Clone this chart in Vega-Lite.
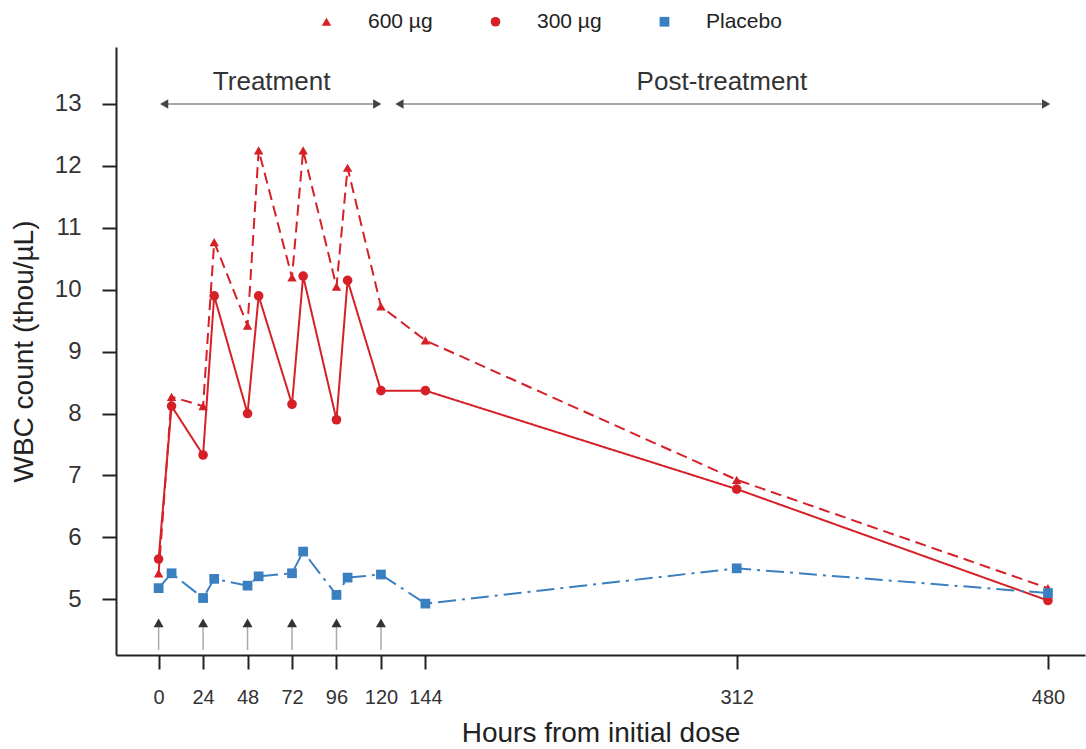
{
  "$schema": "https://vega.github.io/schema/vega-lite/v6.json",
  "width": 969,
  "height": 608,
  "autosize": {"type": "none"},
  "padding": {"left": 116, "top": 47, "right": 1, "bottom": 94},
  "config": {
    "font": "Liberation Sans",
    "view": {"stroke": null},
    "axis": {"grid": false, "domainColor": "#222", "domainWidth": 2, "tickColor": "#222", "tickWidth": 2, "tickSize": 14, "labelColor": "#333", "titleFontSize": 28, "titleFontWeight": "normal", "titleColor": "#222"}
  },
  "datasets": {
    "wbc": [
      {"h": 0, "v": 5.42, "g": "600 µg"}, {"h": 7, "v": 8.27, "g": "600 µg"}, {"h": 24, "v": 8.12, "g": "600 µg"}, {"h": 30, "v": 10.77, "g": "600 µg"}, {"h": 48, "v": 9.42, "g": "600 µg"}, {"h": 54, "v": 12.25, "g": "600 µg"}, {"h": 72, "v": 10.2, "g": "600 µg"}, {"h": 78, "v": 12.25, "g": "600 µg"}, {"h": 96, "v": 10.05, "g": "600 µg"}, {"h": 102, "v": 11.97, "g": "600 µg"}, {"h": 120, "v": 9.73, "g": "600 µg"}, {"h": 144, "v": 9.18, "g": "600 µg"}, {"h": 312, "v": 6.93, "g": "600 µg"}, {"h": 480, "v": 5.18, "g": "600 µg"},
      {"h": 0, "v": 5.65, "g": "300 µg"}, {"h": 7, "v": 8.12, "g": "300 µg"}, {"h": 24, "v": 7.33, "g": "300 µg"}, {"h": 30, "v": 9.9, "g": "300 µg"}, {"h": 48, "v": 8.0, "g": "300 µg"}, {"h": 54, "v": 9.9, "g": "300 µg"}, {"h": 72, "v": 8.15, "g": "300 µg"}, {"h": 78, "v": 10.22, "g": "300 µg"}, {"h": 96, "v": 7.9, "g": "300 µg"}, {"h": 102, "v": 10.15, "g": "300 µg"}, {"h": 120, "v": 8.37, "g": "300 µg"}, {"h": 144, "v": 8.37, "g": "300 µg"}, {"h": 312, "v": 6.78, "g": "300 µg"}, {"h": 480, "v": 4.98, "g": "300 µg"},
      {"h": 0, "v": 5.18, "g": "Placebo"}, {"h": 7, "v": 5.42, "g": "Placebo"}, {"h": 24, "v": 5.02, "g": "Placebo"}, {"h": 30, "v": 5.33, "g": "Placebo"}, {"h": 48, "v": 5.22, "g": "Placebo"}, {"h": 54, "v": 5.37, "g": "Placebo"}, {"h": 72, "v": 5.42, "g": "Placebo"}, {"h": 78, "v": 5.77, "g": "Placebo"}, {"h": 96, "v": 5.07, "g": "Placebo"}, {"h": 102, "v": 5.35, "g": "Placebo"}, {"h": 120, "v": 5.4, "g": "Placebo"}, {"h": 144, "v": 4.93, "g": "Placebo"}, {"h": 312, "v": 5.5, "g": "Placebo"}, {"h": 480, "v": 5.1, "g": "Placebo"}
    ],
    "doses": [{"h": 0}, {"h": 24}, {"h": 48}, {"h": 72}, {"h": 96}, {"h": 120}],
    "spans": [
      {"start": 3, "end": 118, "mid": 61, "label": "Treatment"},
      {"start": 130, "end": 479, "mid": 304, "label": "Post-treatment"}
    ]
  },
  "layer": [
    {
      "data": {"name": "doses"},
      "mark": {"type": "rule", "color": "#aaa", "strokeWidth": 1.5},
      "encoding": {
        "x": {"field": "h", "type": "quantitative"},
        "y": {"datum": 4.18, "type": "quantitative"},
        "y2": {"datum": 4.58}
      }
    },
    {
      "data": {"name": "doses"},
      "mark": {"type": "point", "shape": "triangle-up", "filled": true, "color": "#333", "size": 100, "opacity": 1},
      "encoding": {
        "x": {"field": "h", "type": "quantitative"},
        "y": {"datum": 4.62, "type": "quantitative"}
      }
    },
    {
      "data": {"name": "spans"},
      "mark": {"type": "rule", "color": "#888", "strokeWidth": 1.5},
      "encoding": {
        "x": {"field": "start", "type": "quantitative"},
        "x2": {"field": "end"},
        "y": {"datum": 13, "type": "quantitative"}
      }
    },
    {
      "data": {"name": "spans"},
      "mark": {"type": "point", "shape": "triangle-left", "filled": true, "color": "#444", "size": 90, "opacity": 1},
      "encoding": {
        "x": {"field": "start", "type": "quantitative"},
        "y": {"datum": 13, "type": "quantitative"}
      }
    },
    {
      "data": {"name": "spans"},
      "mark": {"type": "point", "shape": "triangle-right", "filled": true, "color": "#444", "size": 90, "opacity": 1},
      "encoding": {
        "x": {"field": "end", "type": "quantitative"},
        "y": {"datum": 13, "type": "quantitative"}
      }
    },
    {
      "data": {"name": "spans"},
      "mark": {"type": "text", "fontSize": 26, "color": "#333", "baseline": "alphabetic"},
      "encoding": {
        "x": {"field": "mid", "type": "quantitative"},
        "y": {"datum": 13.22, "type": "quantitative"},
        "text": {"field": "label"}
      }
    },
    {
      "data": {"name": "wbc"},
      "mark": {"type": "line", "strokeWidth": 2},
      "encoding": {
        "x": {"field": "h", "type": "quantitative", "scale": {"domain": [-23, 500], "nice": false, "zero": false}, "axis": {"values": [0, 24, 48, 72, 96, 120, 144, 312, 480], "title": "Hours from initial dose", "labelFontSize": 20, "labelPadding": 18, "titlePadding": 12}},
        "y": {"field": "v", "type": "quantitative", "scale": {"domain": [4.1, 13.92], "nice": false, "zero": false}, "axis": {"values": [5, 6, 7, 8, 9, 10, 11, 12, 13], "format": "d", "title": "WBC count (thou/µL)", "labelFontSize": 24, "labelPadding": 21, "titlePadding": 16}},
        "color": {"field": "g", "type": "nominal", "scale": {"domain": ["600 µg", "300 µg", "Placebo"], "range": ["#d62027", "#d62027", "#3a7fc0"]}, "legend": {"orient": "none", "legendX": 200, "legendY": -36, "direction": "horizontal", "title": null, "labelFontSize": 21, "labelColor": "#222", "symbolType": "stroke", "symbolSize": 1936, "symbolStrokeWidth": 2, "columnPadding": 52, "labelOffset": 31,
          "encode": {"symbols": {"update": {
            "shape": {"signal": "datum.value === '600 µg' ? 'M-1,-0.045L-0.68,-0.045L-0.68,0.045L-1,0.045ZM-0.47,-0.045L-0.26,-0.045L-0.26,0.045L-0.47,0.045ZM0.26,-0.045L0.47,-0.045L0.47,0.045L0.26,0.045ZM0.68,-0.045L1,-0.045L1,0.045L0.68,0.045ZM-0.25,0.2L0,-0.25L0.25,0.2Z' : datum.value === '300 µg' ? 'M-1,-0.045L-0.2,-0.045L-0.2,0.045L-1,0.045ZM0.2,-0.045L1,-0.045L1,0.045L0.2,0.045ZM0.2,0A0.2,0.2,0,1,1,-0.2,0A0.2,0.2,0,1,1,0.2,0Z' : 'M-1,-0.045L-0.19,-0.045L-0.19,0.045L-1,0.045ZM0.3,-0.045L0.55,-0.045L0.55,0.045L0.3,0.045ZM0.75,-0.045L1,-0.045L1,0.045L0.75,0.045ZM-0.19,-0.19L0.19,-0.19L0.19,0.19L-0.19,0.19Z'"},
            "size": {"value": 1936},
            "fill": {"signal": "datum.value === 'Placebo' ? '#3a7fc0' : '#d62027'"},
            "strokeWidth": {"value": 0},
            "fillOpacity": {"value": 1},
            "opacity": {"value": 1}
          }}}}},
        "strokeDash": {"field": "g", "type": "nominal", "scale": {"domain": ["600 µg", "300 µg", "Placebo"], "range": [[11, 6], [1, 0], [18, 6, 3, 6]]}, "legend": null}
      }
    },
    {
      "data": {"name": "wbc"},
      "transform": [{"calculate": "datum.g", "as": "series"}],
      "mark": {"type": "point", "filled": true, "opacity": 1, "strokeWidth": 0},
      "encoding": {
        "x": {"field": "h", "type": "quantitative"},
        "y": {"field": "v", "type": "quantitative"},
        "fill": {"field": "series", "type": "nominal", "scale": {"domain": ["600 µg", "300 µg", "Placebo"], "range": ["#d62027", "#d62027", "#3a7fc0"]}, "legend": null},
        "size": {"field": "series", "type": "nominal", "scale": {"domain": ["600 µg", "300 µg", "Placebo"], "range": [90, 95, 100]}, "legend": null},
        "shape": {"field": "series", "type": "nominal", "scale": {"domain": ["600 µg", "300 µg", "Placebo"], "range": ["triangle-up", "circle", "square"]}, "legend": null}
      }
    }
  ]
}
